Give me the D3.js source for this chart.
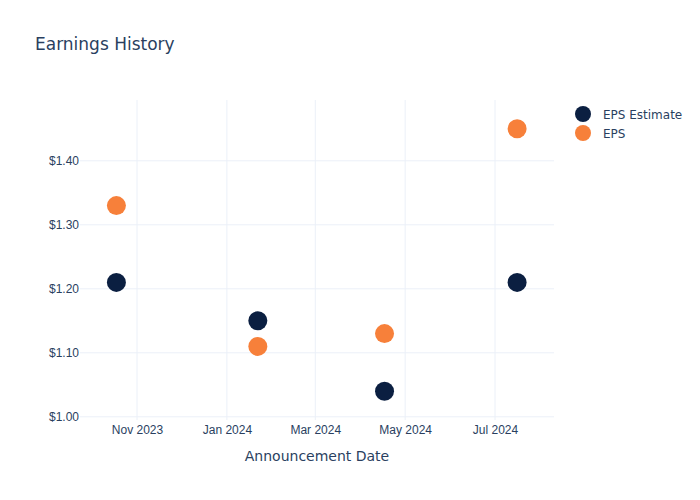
<!DOCTYPE html>
<html><head><meta charset="utf-8">
<script src="https://cdn.jsdelivr.net/npm/d3@7"></script>
<style>body{margin:0;background:#fff}svg{font-family:"DejaVu Sans",Verdana,Arial,sans-serif}</style>
</head><body>
<svg id="c" width="700" height="500"></svg>
<script>
const dates = ["2023-10-18","2024-01-22","2024-04-17","2024-07-16"];
const epsEstimate = [1.21, 1.15, 1.04, 1.21];
const eps = [1.33, 1.11, 1.13, 1.45];
const seriesNames = ["EPS Estimate", "EPS"];
const yTicks = [1.00, 1.10, 1.20, 1.30, 1.40];
const xTickDates = ["2023-11-01","2024-01-01","2024-03-01","2024-05-01","2024-07-01"];

const colors = ["#0b1f41", "#f7803a"];
const textColor = "#2a3f5f";
const gridColor = "#ebf0f8";
const svg = d3.select("#c");
const parse = d3.timeParse("%Y-%m-%d");
const L = 80, R = 554, T = 100, B = 420;

const x = d3.scaleTime().domain([new Date(2023,8,23,7), new Date(2024,7,10,1)]).range([L, R]);
const y = d3.scaleLinear().domain([0.995, 1.495]).range([B, T]);

// grid
const g = svg.append("g");
g.selectAll(".vx").data(xTickDates).join("line")
  .attr("x1", d => x(parse(d))).attr("x2", d => x(parse(d)))
  .attr("y1", T).attr("y2", B).attr("stroke", gridColor).attr("stroke-width", 1);
g.selectAll(".hy").data(yTicks).join("line")
  .attr("x1", L).attr("x2", R).attr("y1", d => y(d)).attr("y2", d => y(d))
  .attr("stroke", gridColor).attr("stroke-width", 1);

// axes
const xAxis = d3.axisBottom(x).tickValues(xTickDates.map(parse))
  .tickFormat(d3.timeFormat("%b %Y")).tickSize(0).tickPadding(5);
const xa = svg.append("g").attr("transform", `translate(0,${B})`).call(xAxis);
xa.select(".domain").remove();
xa.selectAll("text").attr("fill", textColor).style("font-size", "12px");

const yAxis = d3.axisLeft(y).tickValues(yTicks).tickFormat(d => "$" + d3.format(".2f")(d)).tickSize(0).tickPadding(1);
const ya = svg.append("g").attr("transform", `translate(${L},0)`).call(yAxis);
ya.select(".domain").remove();
ya.selectAll("text").attr("fill", textColor).style("font-size", "12px");

// points
const series = [epsEstimate, eps];
series.forEach((vals, i) => {
  svg.append("g").selectAll("circle").data(vals).join("circle")
    .attr("cx", (d, j) => x(parse(dates[j])))
    .attr("cy", d => y(d))
    .attr("r", 9.5)
    .attr("fill", colors[i]);
});

// title
svg.append("text").attr("x", 35).attr("y", 50).text("Earnings History")
  .attr("fill", textColor).style("font-size", "17px");
// x title
svg.append("text").attr("x", (L + R) / 2).attr("y", 461).attr("text-anchor", "middle")
  .text("Announcement Date").attr("fill", textColor).style("font-size", "14px");

// legend
const lg = svg.append("g");
seriesNames.forEach((n, i) => {
  lg.append("circle").attr("cx", 583).attr("cy", 114 + i * 19).attr("r", 8).attr("fill", colors[i]);
  lg.append("text").attr("x", 603).attr("y", 118.5 + i * 19).text(n)
    .attr("fill", textColor).style("font-size", "12px");
});
</script>
</body></html>
